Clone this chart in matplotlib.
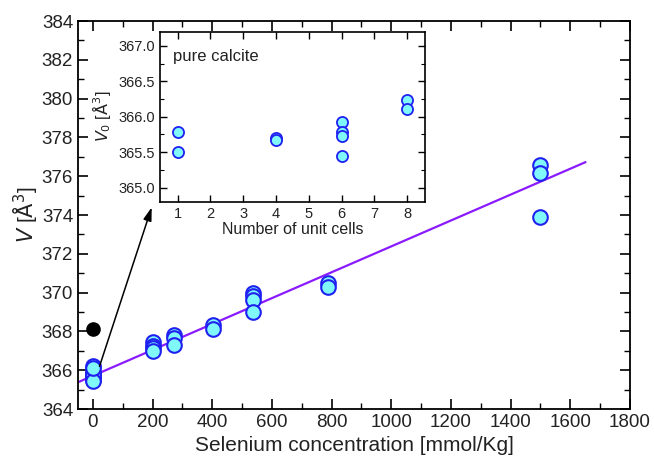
import numpy as np
import matplotlib.pyplot as plt
from matplotlib.ticker import MultipleLocator

plt.rcParams['font.family'] = ['Liberation Sans', 'DejaVu Sans']

# pure calcite: cell volume vs number of unit cells (inset)
cells = [1, 1, 4, 4, 6, 6, 6, 6, 8, 8]
v0_pure = [365.79, 365.50, 365.70, 365.67, 365.93, 365.79, 365.73, 365.45, 366.24, 366.11]

# Se-doped calcite
se_conc = [200, 200, 200, 200, 272, 272, 272, 403, 403,
           535, 535, 535, 535, 788, 788, 1498, 1498, 1498]
v_se = [367.47, 367.25, 367.15, 367.00, 367.80, 367.65, 367.30, 368.35, 368.10,
        370.00, 369.80, 369.60, 369.02, 370.52, 370.28, 376.58, 376.15, 373.88]

# experimental value
exp_x = [0]
exp_v = [368.11]

# linear fit
fit_x = [-50, 1650]
fit_v = [365.38, 376.72]

fill = '#80f8fa'
edge = '#2020f0'

fig = plt.figure(figsize=(6.54, 4.63), dpi=100)
ax = fig.add_axes([0.1193, 0.1166, 0.844, 0.838])

ax.plot(fit_x, fit_v, color='#8a1aff', lw=1.6, zorder=2)
ax.plot([0] * len(v0_pure), v0_pure, 'o', ms=10.5, mfc=fill, mec=edge, mew=1.5, zorder=3)
ax.plot(se_conc, v_se, 'o', ms=10.5, mfc=fill, mec=edge, mew=1.5, zorder=3)
ax.plot(exp_x, exp_v, 'o', ms=9.5, color='black', zorder=3)

ax.annotate('', xy=(197, 374.4), xytext=(22, 366.2),
            arrowprops=dict(arrowstyle='-|>,head_length=0.8,head_width=0.25',
                            color='black', lw=1.1,
                            mutation_scale=10, shrinkA=0, shrinkB=0))

ax.set_xlim(-50, 1800)
ax.set_ylim(364, 384)
ax.xaxis.set_major_locator(MultipleLocator(200))
ax.xaxis.set_minor_locator(MultipleLocator(100))
ax.yaxis.set_major_locator(MultipleLocator(2))
ax.yaxis.set_minor_locator(MultipleLocator(1))
ax.tick_params(which='both', direction='in', top=True, right=True, labelsize=13.5,
               labelcolor='#222222')
ax.tick_params(which='major', length=7, width=1.2)
ax.tick_params(which='minor', length=4, width=1)
for s in ax.spines.values():
    s.set_linewidth(1.3)
ax.set_xlabel('Selenium concentration [mmol/Kg]', fontsize=15, color='#222222')
ax.set_ylabel(r'$\it{V}$ [$\mathrm{\AA^3}$]', fontsize=15, color='#222222', labelpad=1)

# inset
ins = fig.add_axes([0.2446, 0.5644, 0.4052, 0.3671])
ins.plot(cells, v0_pure, 'o', ms=8, mfc=fill, mec=edge, mew=1.3)
ins.set_xlim(0.46, 8.54)
ins.set_ylim(364.8, 367.2)
ins.xaxis.set_major_locator(MultipleLocator(1))
ins.yaxis.set_major_locator(MultipleLocator(0.5))
ins.yaxis.set_minor_locator(MultipleLocator(0.25))
ins.yaxis.set_major_formatter(plt.FormatStrFormatter('%.1f'))
ins.tick_params(which='both', direction='in', top=True, right=True, labelsize=10.5,
                labelcolor='#222222')
ins.tick_params(which='major', length=5, width=1)
ins.tick_params(which='minor', length=3, width=0.8)
for s in ins.spines.values():
    s.set_linewidth(1.2)
ins.set_xlabel('Number of unit cells', fontsize=11.5, labelpad=1, color='#222222')
ins.set_ylabel(r'$\it{V_0}$ [$\mathrm{\AA^3}$]', fontsize=11.5, color='#222222')
ins.text(0.05, 0.855, 'pure calcite', transform=ins.transAxes, fontsize=12,
         va='center', color='#222222')

fig.savefig('out.png', dpi=100)
